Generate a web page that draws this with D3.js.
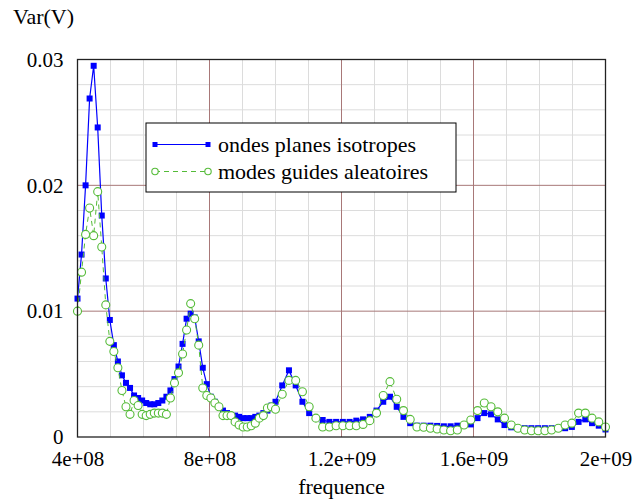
<!DOCTYPE html>
<html>
<head>
<meta charset="utf-8">
<script src="https://cdnjs.cloudflare.com/ajax/libs/d3/7.8.5/d3.min.js"></script>
<style>
  body { margin: 0; background: #fff; }
  svg text { font-family: "Liberation Serif", "DejaVu Serif", serif !important; fill: #000; }
</style>
</head>
<body>
<div id="chart"></div>
<script>
// frequency samples (MHz)
var freqMHz = [
  400, 412.2, 424.5, 436.7, 449.0, 461.2, 473.5, 485.7, 498.0, 510.2,
  522.4, 534.7, 546.9, 559.2, 571.4, 583.7, 595.9, 608.2, 620.4, 632.7,
  644.9, 657.1, 669.4, 681.6, 693.9, 706.1, 718.4, 730.6, 742.9, 755.1,
  767.3, 779.6, 791.8, 804.1, 816.3, 828.6, 840.8, 853.1, 865.3, 877.6,
  889.8, 902.0, 914.3, 926.5, 938.8, 951.0, 963.3, 975.5, 987.8, 1000,
  1020.4, 1040.8, 1061.2, 1081.6, 1102.0, 1122.4, 1142.9, 1163.3, 1183.7, 1204.1,
  1224.5, 1244.9, 1265.3, 1285.7, 1306.1, 1326.5, 1346.9, 1367.3, 1387.8, 1408.2,
  1428.6, 1449.0, 1469.4, 1489.8, 1510.2, 1530.6, 1551.0, 1571.4, 1591.8, 1612.2,
  1632.7, 1653.1, 1673.5, 1693.9, 1714.3, 1734.7, 1755.1, 1775.5, 1795.9, 1816.3,
  1836.7, 1857.1, 1877.6, 1898.0, 1918.4, 1938.8, 1959.2, 1979.6, 2000
];

// ondes planes isotropes
var ondesPlanes = [
  0.0110, 0.0145, 0.0200, 0.0269, 0.0295, 0.0246, 0.0176, 0.0126, 0.0093, 0.0073,
  0.0060, 0.0049, 0.0043, 0.0039, 0.0033, 0.0031, 0.0029, 0.0027, 0.0026, 0.0026,
  0.0027, 0.0029, 0.0032, 0.0037, 0.0046, 0.0056, 0.0074, 0.0094, 0.0098, 0.0095,
  0.0076, 0.0055, 0.0042, 0.0032, 0.0028, 0.0024, 0.0021, 0.0019, 0.0017, 0.0017,
  0.0016, 0.0015, 0.0015, 0.0015, 0.0016, 0.0017, 0.0019, 0.0021, 0.0025, 0.0028,
  0.0041, 0.0053, 0.0041, 0.0028, 0.0019, 0.0015, 0.00135, 0.0012, 0.0012, 0.0012,
  0.0012, 0.0013, 0.0014, 0.0016, 0.0021, 0.0028, 0.0032, 0.0024, 0.0016, 0.0011,
  0.0009, 0.0009, 0.0009, 0.00088, 0.00085, 0.00085, 0.0009, 0.00095, 0.0010, 0.0015,
  0.0019, 0.0018, 0.0014, 0.00095, 0.00077, 0.0007, 0.0007, 0.0007, 0.0007, 0.0007,
  0.0007, 0.0007, 0.0007, 0.0008, 0.0012, 0.0014, 0.0011, 0.0009, 0.0006
];

// modes guides aleatoires
var modesGuides = [
  0.0100, 0.0131, 0.0161, 0.0182, 0.0160, 0.0195, 0.0151, 0.0105, 0.0076, 0.0068,
  0.0055, 0.0037, 0.0024, 0.0018, 0.0029, 0.0025, 0.0018, 0.0017, 0.0018, 0.0019,
  0.0019, 0.0019, 0.0018, 0.0031, 0.0043, 0.0051, 0.0066, 0.0085, 0.0106, 0.0094,
  0.0073, 0.0039, 0.0033, 0.0031, 0.0027, 0.0024, 0.0017, 0.0017, 0.0017, 0.0012,
  0.00095, 0.0008, 0.0008, 0.0009, 0.0011, 0.0015, 0.0017, 0.0023, 0.0024, 0.0022,
  0.0034, 0.0045, 0.0045, 0.0036, 0.0024, 0.0015, 0.0008, 0.0008, 0.0009, 0.0009,
  0.0009, 0.0009, 0.0010, 0.0013, 0.0019, 0.0033, 0.0044, 0.0030, 0.0021, 0.0014,
  0.0008, 0.00077, 0.0007, 0.00064, 0.00056, 0.0005, 0.00056, 0.00095, 0.00135, 0.0021,
  0.0027, 0.0024, 0.0020, 0.0015, 0.00095, 0.0007, 0.00056, 0.0005, 0.0005, 0.0005,
  0.00056, 0.0007, 0.00095, 0.0011, 0.0019, 0.0019, 0.0015, 0.0012, 0.0008
];

var seriesNames = ["ondes planes isotropes", "modes guides aleatoires"];

var xTickValues = [4e8, 8e8, 1.2e9, 1.6e9, 2e9];
var xTickLabels = ["4e+08", "8e+08", "1.2e+09", "1.6e+09", "2e+09"];
var yTickValues = [0, 0.01, 0.02, 0.03];
var yTickLabels = ["0", "0.01", "0.02", "0.03"];

var SERIF = "'Liberation Serif', 'DejaVu Serif', serif";

function drawChart() {
  var W = 633, H = 499;
  var margin = {top: 59.5, right: 27.5, bottom: 62, left: 77.5};
  var width = W - margin.left - margin.right,
      height = H - margin.top - margin.bottom;

  var blue = "#0000ff", green = "#55bb38";

  var x = d3.scaleLinear().domain([4e8, 2e9]).range([0, width]);
  var y = d3.scaleLinear().domain([0, 0.03]).range([height, 0]);

  var svg = d3.select("#chart").append("svg")
      .attr("width", W)
      .attr("height", H)
      .attr("font-family", SERIF)
      .style("background", "#fff");

  var g = svg.append("g")
      .attr("transform", "translate(" + margin.left + "," + margin.top + ")");

  // minor grid
  var minorX = x.ticks(16).filter(function(d) { return xTickValues.indexOf(d) < 0; });
  var minorY = y.ticks(15).filter(function(d) { return Math.abs(d * 100 - Math.round(d * 100)) > 1e-9; });

  g.selectAll(".gx").data(minorX).enter().append("line")
      .attr("x1", function(d) { return x(d); }).attr("x2", function(d) { return x(d); })
      .attr("y1", 0).attr("y2", height)
      .style("stroke", "#dcdcdc").style("stroke-width", 1);
  g.selectAll(".gy").data(minorY).enter().append("line")
      .attr("y1", function(d) { return y(d); }).attr("y2", function(d) { return y(d); })
      .attr("x1", 0).attr("x2", width)
      .style("stroke", "#dcdcdc").style("stroke-width", 1);

  // major grid
  g.selectAll(".mx").data(xTickValues.slice(1, -1)).enter().append("line")
      .attr("x1", function(d) { return x(d); }).attr("x2", function(d) { return x(d); })
      .attr("y1", 0).attr("y2", height)
      .style("stroke", "#a87878").style("stroke-width", 1);
  g.selectAll(".my").data(yTickValues.slice(1, -1)).enter().append("line")
      .attr("y1", function(d) { return y(d); }).attr("y2", function(d) { return y(d); })
      .attr("x1", 0).attr("x2", width)
      .style("stroke", "#a87878").style("stroke-width", 1);

  // axes
  var xAxis = d3.axisBottom(x)
      .tickValues(xTickValues)
      .tickFormat(function(d, i) { return xTickLabels[i]; })
      .tickSize(0).tickPadding(14);
  var yAxis = d3.axisLeft(y)
      .tickValues(yTickValues)
      .tickFormat(function(d, i) { return yTickLabels[i]; })
      .tickSize(0).tickPadding(14);

  var gx = g.append("g").attr("transform", "translate(0," + height + ")").call(xAxis);
  var gy = g.append("g").call(yAxis);
  [gx, gy].forEach(function(a) {
    a.attr("font-family", SERIF).attr("font-size", 21);
    a.select(".domain").remove();
    a.selectAll("text")
      .style("font-family", SERIF)
      .style("font-size", "21px")
      .style("fill", "#000");
  });

  var data = freqMHz.map(function(f, i) {
    return {f: f * 1e6, a: ondesPlanes[i], b: modesGuides[i]};
  });

  var lineA = d3.line().x(function(d) { return x(d.f); }).y(function(d) { return y(d.a); });
  var lineB = d3.line().x(function(d) { return x(d.f); }).y(function(d) { return y(d.b); });

  g.append("path").datum(data)
      .attr("d", lineA)
      .style("fill", "none").style("stroke", blue).style("stroke-width", 1.2);

  g.selectAll(".sq").data(data).enter().append("rect")
      .attr("x", function(d) { return x(d.f) - 3; })
      .attr("y", function(d) { return y(d.a) - 3; })
      .attr("width", 6).attr("height", 6)
      .style("fill", blue);

  g.append("path").datum(data)
      .attr("d", lineB)
      .style("fill", "none").style("stroke", green).style("stroke-width", 1)
      .style("stroke-dasharray", "5,4");

  g.selectAll(".ci").data(data).enter().append("circle")
      .attr("cx", function(d) { return x(d.f); })
      .attr("cy", function(d) { return y(d.b); })
      .attr("r", 4)
      .style("fill", "#fff").style("stroke", green).style("stroke-width", 1.1);

  // frame
  g.append("rect")
      .attr("width", width).attr("height", height)
      .style("fill", "none").style("stroke", "#222").style("stroke-width", 1.3);

  // axis titles
  svg.append("text")
      .attr("x", 13).attr("y", 24)
      .style("font-family", SERIF)
      .style("font-size", "22px")
      .text("Var(V)");

  svg.append("text")
      .attr("x", margin.left + width / 2).attr("y", 494)
      .style("text-anchor", "middle")
      .style("font-family", SERIF)
      .style("font-size", "22px")
      .text("frequence");

  // legend
  var lg = svg.append("g").attr("transform", "translate(146,123)");
  lg.append("rect")
      .attr("width", 310).attr("height", 69)
      .style("fill", "#fff").style("stroke", "#000").style("stroke-width", 1);

  var rows = [
    {name: seriesNames[0], y: 21.5},
    {name: seriesNames[1], y: 48.5}
  ];

  lg.append("line").attr("x1", 9).attr("x2", 62).attr("y1", rows[0].y).attr("y2", rows[0].y)
      .style("stroke", blue).style("stroke-width", 1.2);
  lg.selectAll(".lsq").data([9, 62]).enter().append("rect")
      .attr("x", function(d) { return d - 2.5; }).attr("y", rows[0].y - 2.5)
      .attr("width", 5).attr("height", 5).style("fill", blue);

  lg.append("line").attr("x1", 9).attr("x2", 62).attr("y1", rows[1].y).attr("y2", rows[1].y)
      .style("stroke", green).style("stroke-width", 1).style("stroke-dasharray", "5,4");
  lg.selectAll(".lci").data([9, 62]).enter().append("circle")
      .attr("cx", function(d) { return d; }).attr("cy", rows[1].y).attr("r", 3.2)
      .style("fill", "#fff").style("stroke", green).style("stroke-width", 1.1);

  lg.selectAll(".lt").data(rows).enter().append("text")
      .attr("x", 72).attr("y", function(d) { return d.y; })
      .attr("dy", "0.33em")
      .style("font-family", SERIF)
      .style("font-size", "22px")
      .text(function(d) { return d.name; });
}

drawChart();
</script>
</body>
</html>
